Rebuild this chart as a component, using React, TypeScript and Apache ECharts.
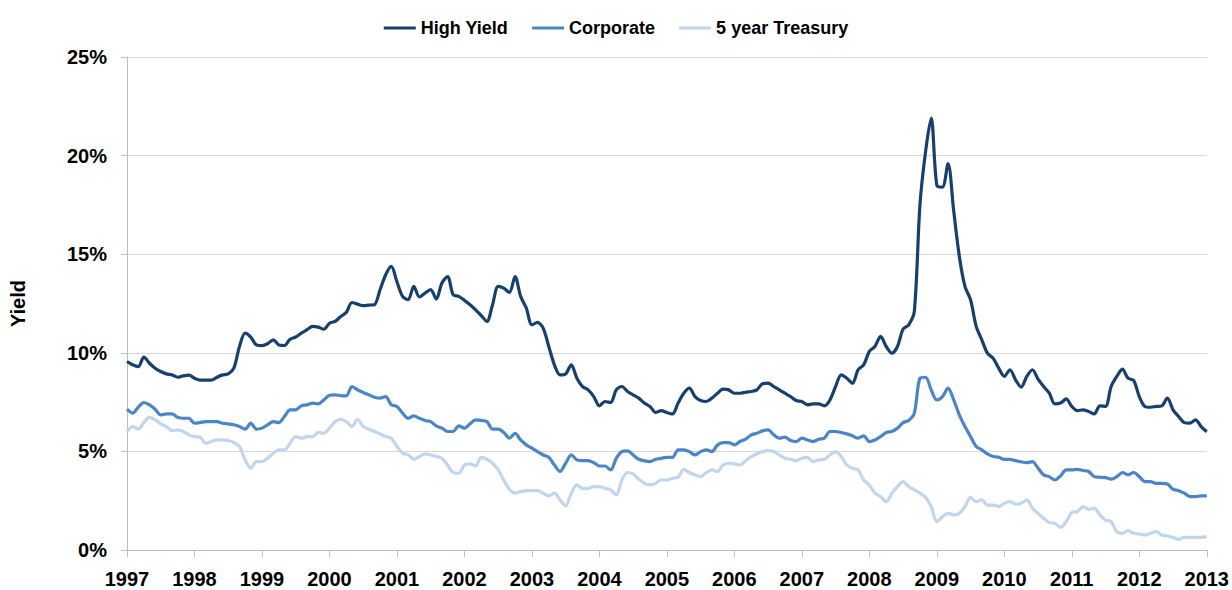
import React, { useEffect, useRef } from "react";
import * as echarts from "echarts";

const startYear = 1997;
const endYear = 2013;
const months: string[] = [];
for (let y = startYear; y < endYear; y++) {
  for (let m = 1; m <= 12; m++) months.push(`${y}-${m < 10 ? "0" + m : m}`);
}
months.push(`${endYear}-01`);

const yTicks = [0, 5, 10, 15, 20, 25];

const highYield = [
  9.56, 9.39, 9.3, 9.78, 9.47, 9.22, 9.05, 8.93, 8.88, 8.76, 8.83, 8.87,
  8.71, 8.61, 8.61, 8.61, 8.76, 8.88, 8.93, 9.22, 10.32, 11.0, 10.8, 10.4,
  10.36, 10.46, 10.66, 10.4, 10.37, 10.69, 10.8, 11.0, 11.17, 11.34, 11.3, 11.2,
  11.5, 11.59, 11.84, 12.05, 12.55, 12.47, 12.39, 12.42, 12.44, 13.2, 13.96, 14.38,
  13.6, 12.86, 12.69, 13.37, 12.83, 13.03, 13.2, 12.72, 13.54, 13.87, 12.94, 12.86,
  12.66, 12.44, 12.18, 11.88, 11.59, 12.44, 13.37, 13.28, 13.06, 13.87, 12.86, 12.27,
  11.42, 11.54, 11.25, 10.32, 9.39, 8.88, 8.93, 9.39, 8.71, 8.29, 8.12, 7.78,
  7.31, 7.53, 7.48, 8.12, 8.29, 8.04, 7.87, 7.7, 7.45, 7.28, 6.97, 7.07,
  6.97, 6.9, 7.45, 7.95, 8.21, 7.78, 7.58, 7.53, 7.7, 7.95, 8.16, 8.12,
  7.95, 7.95, 8.0, 8.04, 8.12, 8.43, 8.46, 8.29, 8.12, 7.95, 7.78, 7.58,
  7.53, 7.36, 7.41, 7.41, 7.31, 7.61, 8.29, 8.88, 8.71, 8.46, 9.14, 9.39,
  10.07, 10.32, 10.83, 10.32, 9.98, 10.32, 11.2, 11.42, 12.1, 17.5, 20.2, 21.9,
  18.5, 18.4, 19.6, 17.2, 14.9, 13.37, 12.69, 11.34, 10.66, 9.98, 9.73, 9.22,
  8.8, 9.14, 8.63, 8.26, 8.8, 9.14, 8.66, 8.29, 7.95, 7.41, 7.45, 7.66,
  7.28, 7.07, 7.11, 7.02, 6.9, 7.31, 7.28, 8.29, 8.8, 9.17, 8.71, 8.6,
  7.78, 7.28, 7.24, 7.28, 7.31, 7.7, 7.11, 6.77, 6.46, 6.43, 6.6, 6.26,
  6.0,
];

const corporate = [
  7.14, 6.94, 7.24, 7.48, 7.36, 7.14, 6.85, 6.9, 6.9, 6.73, 6.68, 6.68,
  6.43, 6.46, 6.51, 6.51, 6.51, 6.43, 6.4, 6.35, 6.26, 6.13, 6.43, 6.13,
  6.18, 6.35, 6.51, 6.46, 6.77, 7.11, 7.11, 7.31, 7.36, 7.45, 7.41, 7.61,
  7.85, 7.87, 7.83, 7.82, 8.29, 8.12, 7.99, 7.87, 7.75, 7.7, 7.78, 7.36,
  7.28, 6.94, 6.68, 6.8, 6.68, 6.57, 6.51, 6.29, 6.18, 6.01, 6.01, 6.29,
  6.18, 6.4, 6.6, 6.57, 6.51, 6.13, 6.13, 5.96, 5.67, 5.92, 5.58, 5.33,
  5.16, 4.99, 4.82, 4.7, 4.31, 3.98, 4.4, 4.82, 4.57, 4.53, 4.53, 4.43,
  4.26, 4.26, 4.06, 4.65, 4.99, 5.03, 4.82, 4.6, 4.52, 4.48, 4.6, 4.65,
  4.7, 4.7, 5.08, 5.08, 4.99, 4.82, 4.99, 5.08, 4.99, 5.33, 5.45, 5.45,
  5.33, 5.5, 5.62, 5.84, 5.92, 6.04, 6.09, 5.84, 5.67, 5.72, 5.55, 5.5,
  5.67, 5.58, 5.5, 5.62, 5.67, 6.01, 6.01, 5.96, 5.89, 5.79, 5.67, 5.79,
  5.5, 5.58, 5.75, 5.96, 6.01, 6.18, 6.46, 6.57, 6.94, 8.71, 8.76, 8.12,
  7.61, 7.78, 8.21, 7.61, 6.85, 6.26, 5.75, 5.25, 5.08, 4.87, 4.74, 4.7,
  4.6, 4.6, 4.53, 4.47, 4.43, 4.48, 4.15, 3.81, 3.72, 3.55, 3.76, 4.06,
  4.06, 4.09, 4.03, 3.98, 3.72, 3.69, 3.67, 3.59, 3.72, 3.93, 3.81, 3.93,
  3.72, 3.47, 3.47, 3.38, 3.38, 3.35, 3.08, 3.01, 2.88, 2.71, 2.71, 2.74,
  2.74,
];

const treasury5y = [
  6.01, 6.26, 6.13, 6.46, 6.73, 6.6, 6.4, 6.26, 6.06, 6.09, 6.01, 5.84,
  5.75, 5.72, 5.41, 5.5, 5.58, 5.58, 5.55, 5.45, 5.25, 4.57, 4.15, 4.48,
  4.48, 4.65, 4.91, 5.08, 5.08, 5.41, 5.75, 5.67, 5.75, 5.75, 5.96, 5.92,
  6.18, 6.51, 6.63, 6.51, 6.26, 6.63, 6.26, 6.13, 6.01, 5.89, 5.75, 5.67,
  5.25, 4.91, 4.82, 4.6, 4.74, 4.87, 4.82, 4.74, 4.65, 4.31, 3.93, 3.89,
  4.31, 4.37, 4.26, 4.7, 4.6, 4.4, 4.06, 3.55, 3.08, 2.88, 2.96, 3.01,
  3.01, 3.01, 2.88, 2.74, 2.88, 2.54, 2.23, 2.88, 3.3, 3.13, 3.13, 3.21,
  3.21, 3.13, 3.05, 2.79, 3.55, 3.93, 3.86, 3.59, 3.38, 3.3, 3.38, 3.55,
  3.55, 3.64, 3.69, 4.09, 3.93, 3.81, 3.72, 3.93, 4.06, 3.98, 4.31, 4.4,
  4.37, 4.31, 4.53, 4.74, 4.87, 4.99, 5.04, 4.99, 4.82, 4.65, 4.6, 4.53,
  4.65, 4.7, 4.48, 4.57, 4.6, 4.82, 4.99, 4.74, 4.31, 4.15, 4.06, 3.55,
  3.3, 2.88, 2.71, 2.45, 2.88, 3.21, 3.47, 3.21, 3.05, 2.88, 2.67, 2.2,
  1.44, 1.69, 1.86, 1.78, 1.86, 2.2, 2.67, 2.45, 2.54, 2.28, 2.28, 2.2,
  2.37, 2.45, 2.33, 2.37, 2.54, 2.12, 1.86, 1.61, 1.39, 1.35, 1.15, 1.44,
  1.9, 1.95, 2.2, 2.06, 2.12, 1.78, 1.52, 1.44, 0.93, 0.85, 0.98, 0.85,
  0.81, 0.76, 0.85, 0.93, 0.76, 0.71, 0.64, 0.54, 0.64, 0.64, 0.64, 0.64,
  0.68,
];

const FONT = "'Liberation Sans', Arial, sans-serif";

export default function App() {
  const ref = useRef<HTMLDivElement>(null);
  useEffect(() => {
    document.body.style.margin = "0";
    if (!ref.current) return;
    const chart = echarts.init(ref.current, undefined, { renderer: "svg" });
    const mk = (name: string, data: number[], color: string) => ({
      name,
      type: "line",
      data,
      smooth: 0.3,
      showSymbol: false,
      symbol: "none",
      lineStyle: { color, width: 3.2 },
      itemStyle: { color },
    });
    chart.setOption({
      animation: false,
      backgroundColor: "#ffffff",
      textStyle: { fontFamily: FONT },
      legend: {
        top: 14,
        left: "center",
        icon: "rect",
        itemWidth: 32,
        itemHeight: 3,
        itemGap: 24,
        textStyle: { fontFamily: FONT, fontSize: 18, fontWeight: "bold", color: "#000" },
        data: ["High Yield", "Corporate", "5 year Treasury"],
      },
      grid: { left: 127, right: 25, top: 57, bottom: 40, containLabel: false },
      xAxis: {
        type: "category",
        data: months,
        boundaryGap: false,
        axisLine: { lineStyle: { color: "#BFBFBF", width: 1 } },
        axisTick: {
          show: true,
          length: 7,
          interval: (i: number) => i % 12 === 0,
          lineStyle: { color: "#BFBFBF" },
        },
        axisLabel: {
          interval: (i: number) => i % 12 === 0,
          formatter: (v: string) => v.slice(0, 4),
          fontFamily: FONT,
          fontSize: 20,
          fontWeight: "bold",
          color: "#000",
          margin: 19,
        },
        splitLine: { show: false },
      },
      yAxis: {
        type: "value",
        min: yTicks[0],
        max: yTicks[yTicks.length - 1],
        interval: 5,
        name: "Yield",
        nameLocation: "middle",
        nameGap: 99,
        nameTextStyle: { fontFamily: FONT, fontSize: 20, fontWeight: "bold", color: "#000" },
        axisLine: { show: true, lineStyle: { color: "#BFBFBF", width: 1 } },
        axisTick: { show: true, length: 6, lineStyle: { color: "#BFBFBF" } },
        axisLabel: {
          formatter: "{value}%",
          fontFamily: FONT,
          fontSize: 20,
          fontWeight: "bold",
          color: "#000",
          margin: 20,
        },
        splitLine: { show: true, lineStyle: { color: "#D9D9D9", width: 1 } },
      },
      series: [
        mk("High Yield", highYield, "#17406F"),
        mk("Corporate", corporate, "#4A86C6"),
        mk("5 year Treasury", treasury5y, "#BFD6EE"),
      ],
    });
    return () => chart.dispose();
  }, []);
  return <div ref={ref} style={{ width: 1232, height: 590 }} />;
}
